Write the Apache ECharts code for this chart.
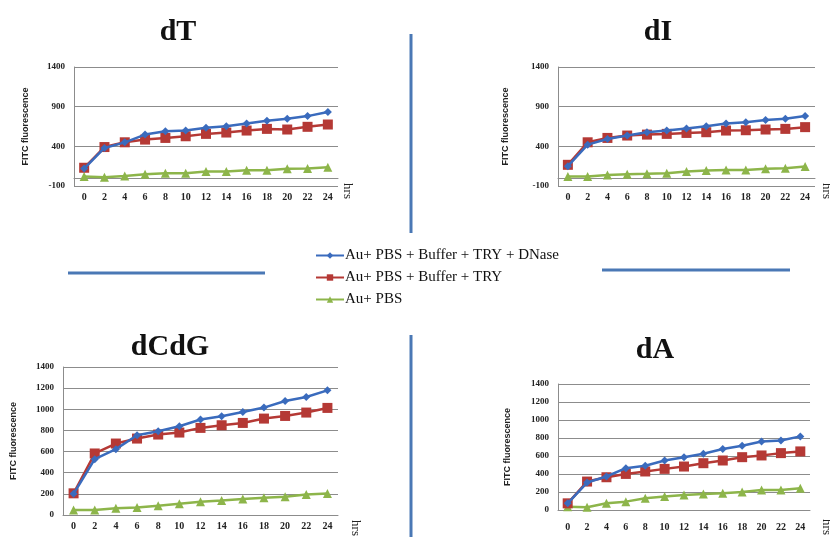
<!DOCTYPE html>
<html><head><meta charset="utf-8">
<script src="https://cdn.jsdelivr.net/npm/echarts@6/dist/echarts.min.js"></script>
<style>html,body{margin:0;padding:0;background:#fff}#c{width:830px;height:540px}</style>
</head><body><div id="c"></div>
<script>
const hours = ['0','2','4','6','8','10','12','14','16','18','20','22','24'];
const seriesNames = ['Au+ PBS + Buffer + TRY + DNase','Au+ PBS + Buffer + TRY','Au+ PBS'];
const panelTitles = ['dT','dI','dCdG','dA'];

// dT
const dT_dnase = [120,380,450,548,590,599,633,654,688,722,747,781,832];
const dT_try   = [130,391,451,485,506,527,557,574,599,620,612,646,675];
const dT_pbs   = [19,10,27,48,61,61,82,82,99,99,116,120,137];
// dI
const dI_dnase = [150,421,493,536,578,599,625,654,688,705,731,747,781];
const dI_try   = [167,451,506,536,548,557,569,578,599,603,612,620,642];
const dI_pbs   = [19,19,40,48,53,61,82,95,103,103,116,125,146];
// dCdG
const dCdG_dnase = [200,528,623,755,792,840,903,934,975,1016,1079,1116,1179];
const dCdG_try   = [205,582,676,723,761,780,824,849,871,912,937,969,1013];
const dCdG_pbs   = [47,47,63,72,88,107,126,138,151,164,173,195,204];
// dA
const dA_dnase = [74,305,372,465,491,550,587,625,677,714,762,773,818];
const dA_try   = [74,316,364,401,428,457,483,520,550,587,606,632,651];
const dA_pbs   = [37,30,74,93,130,149,167,178,186,201,223,223,242];

const panelData = [
  [dT_dnase, dT_try, dT_pbs],
  [dI_dnase, dI_try, dI_pbs],
  [dCdG_dnase, dCdG_try, dCdG_pbs],
  [dA_dnase, dA_try, dA_pbs]
];
const yTicks = [
  {min:-100,max:1400,interval:500},
  {min:-100,max:1400,interval:500},
  {min:0,max:1400,interval:200},
  {min:0,max:1400,interval:200}
];

const colors = ['#3a6bbd','#b53935','#8db54a'];
const symbols = ['diamond','rect','triangle'];
const symSizes = [8,10,9];
const grids = [
  {left:74, top:67, width:264, height:119},
  {left:558, top:67, width:257, height:119},
  {left:63, top:367, width:275, height:148},
  {left:558, top:384, width:252, height:126}
];
const nameGaps = [44,48,45,46];
const serif = 'Liberation Serif';

const xAxes = [], yAxes = [], series = [];
grids.forEach((g,i)=>{
  xAxes.push({
    type:'category', gridIndex:i, data:hours, boundaryGap:true,
    axisLine:{show:true, lineStyle:{color:'#8c8c8c', width:1}},
    axisTick:{show:false},
    axisLabel:{fontFamily:serif, fontWeight:'bold', fontSize:10, color:'#222', margin: i===3?12:6, interval:0}
  });
  yAxes.push({
    type:'value', gridIndex:i, min:yTicks[i].min, max:yTicks[i].max, interval:yTicks[i].interval,
    axisLine:{show:true, lineStyle:{color:'#8c8c8c', width:1}},
    axisTick:{show:false},
    splitLine:{show:true, lineStyle:{color:'#8c8c8c', width:1}},
    axisLabel:{fontFamily:serif, fontWeight:'bold', fontSize:9, color:'#222', margin:9, formatter:v=>String(v)},
    name:'FITC fluorescence', nameLocation:'middle', nameGap:nameGaps[i], nameRotate:90,
    nameTextStyle:{fontFamily:'Liberation Sans Narrow, Liberation Sans', fontWeight:'bold', fontSize:9, color:'#222'}
  });
  panelData[i].forEach((vals,k)=>{
    series.push({
      type:'line', name:seriesNames[k], xAxisIndex:i, yAxisIndex:i, data:vals,
      symbol:symbols[k], symbolSize:symSizes[k], showAllSymbol:true,
      lineStyle:{color:colors[k], width:2.5},
      itemStyle:{color:colors[k]},
      z: 3-k+2, animation:false
    });
  });
});

const titlePos = [[178,32],[658,32],[170,347],[655,350]];
const hrsPos = [[347,191],[826,191],[355,528],[826,527]];
const graphic = [];
titlePos.forEach((p,i)=>{
  graphic.push({type:'text', x:p[0], y:p[1], style:{text:panelTitles[i], align:'center', verticalAlign:'middle', font:'bold 30px "Liberation Serif"', fill:'#111'}});
});
hrsPos.forEach(p=>{
  graphic.push({type:'text', x:p[0], y:p[1], rotation:-Math.PI/2, style:{text:'hrs', align:'center', verticalAlign:'middle', font:'13px "Liberation Serif"', fill:'#222'}});
});
const decoColor = '#4a78b5';
graphic.push({type:'line', shape:{x1:411,y1:34,x2:411,y2:233}, style:{stroke:decoColor, lineWidth:3}});
graphic.push({type:'line', shape:{x1:411,y1:335,x2:411,y2:537}, style:{stroke:decoColor, lineWidth:3}});
graphic.push({type:'line', shape:{x1:68,y1:273,x2:265,y2:273}, style:{stroke:decoColor, lineWidth:3}});
graphic.push({type:'line', shape:{x1:602,y1:270,x2:790,y2:270}, style:{stroke:decoColor, lineWidth:3}});

const chart = echarts.init(document.getElementById('c'), null, {renderer:'canvas'});
chart.setOption({
  animation:false,
  backgroundColor:'#fff',
  grid:grids,
  xAxis:xAxes, yAxis:yAxes, series:series,
  legend:{
    data:seriesNames, orient:'vertical', left:310, top:243, itemGap:7,
    itemWidth:28, itemHeight:8,
    textStyle:{fontFamily:serif, fontSize:15, color:'#111', padding:[0,0,0,-4]}
  },
  graphic:graphic
});
</script></body></html>
